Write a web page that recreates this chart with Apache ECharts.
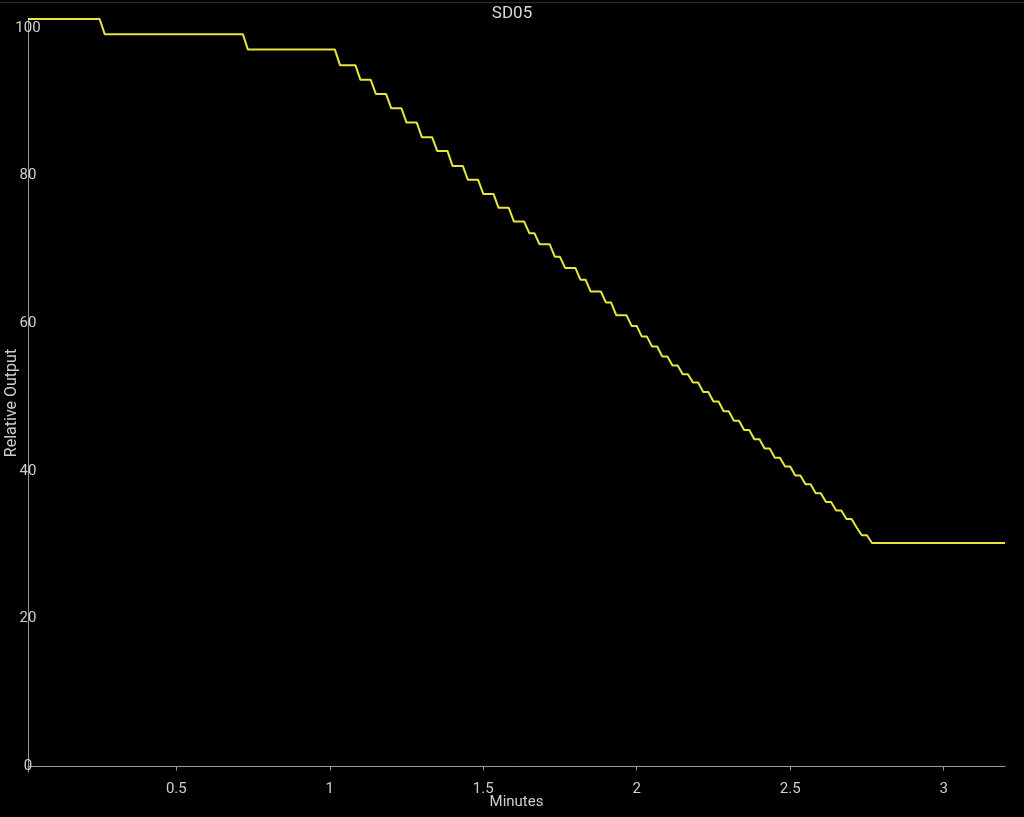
<!DOCTYPE html>
<html>
<head>
<meta charset="utf-8">
<script src="https://cdn.jsdelivr.net/npm/echarts@6/dist/echarts.min.js"></script>
<style>
html,body{margin:0;padding:0;background:#000;}
#chart{width:1024px;height:817px;}
</style>
</head>
<body>
<div id="chart"></div>
<script>
// Plateaus of the stepped output curve (time in seconds, value in %)
const plateauStartSec = [1, 16, 44, 62, 66, 69, 72, 75, 78, 81, 84, 87, 90, 93, 96, 99, 101, 104, 106, 109, 111, 114, 116, 119, 121, 123, 125, 127, 129, 131, 133, 135, 137, 139, 141, 143, 145, 147, 149, 151, 153, 155, 157, 159, 161, 163, 164, 166];
const plateauEndSec   = [15, 43, 61, 65, 68, 71, 74, 77, 80, 83, 86, 89, 92, 95, 98, 100, 103, 105, 108, 110, 113, 115, 118, 120, 122, 124, 126, 128, 130, 132, 134, 136, 138, 140, 142, 144, 146, 148, 150, 152, 154, 156, 158, 160, 162, 163, 165, 192];
const plateauValue    = [101.2, 99.15, 97.06, 94.95, 92.96, 91.06, 89.13, 87.18, 85.2, 83.34, 81.31, 79.42, 77.52, 75.63, 73.77, 72.2, 70.7, 69.0, 67.5, 65.9, 64.3, 62.8, 61.1, 59.65, 58.2, 56.85, 55.5, 54.3, 53.1, 52.0, 50.7, 49.4, 48.1, 46.8, 45.55, 44.3, 43.05, 41.8, 40.6, 39.4, 38.2, 37.0, 35.8, 34.65, 33.5, 32.35, 31.3, 30.25];

const xTickValues = [0.5, 1, 1.5, 2, 2.5, 3];
const yTickValues = [0, 20, 40, 60, 80, 100];

const titleText = 'SD05';
const xName = 'Minutes';
const yName = 'Relative Output';

const seriesData = [];
for (let i = 0; i < plateauValue.length; i++) {
  seriesData.push([plateauStartSec[i] / 60, plateauValue[i]]);
  if (plateauEndSec[i] !== plateauStartSec[i]) {
    seriesData.push([plateauEndSec[i] / 60, plateauValue[i]]);
  }
}

const chart = echarts.init(document.getElementById('chart'), null, {renderer: 'canvas'});
const axisColor = '#9a9a9a';
const labelColor = '#cfcfcf';
const font = 'Roboto';

chart.setOption({
  backgroundColor: '#000000',
  animation: false,
  textStyle: {fontFamily: font},
  graphic: [{
    type: 'line',
    shape: {x1: 0, y1: 2.5, x2: 1024, y2: 2.5},
    style: {stroke: '#2a2a2a', lineWidth: 1},
    silent: true
  }],
  title: {
    text: titleText,
    left: 'center',
    top: 0,
    textStyle: {color: '#d9d9d9', fontSize: 17, fontWeight: 'normal', fontFamily: font}
  },
  grid: {left: 28, right: 19, top: 19, bottom: 45, containLabel: false, outerBoundsMode: 'none'},
  xAxis: {
    type: 'value',
    min: 1 / 60,
    max: 3.2,
    name: xName,
    nameLocation: 'middle',
    nameGap: 23,
    nameMoveOverlap: false,
    nameTextStyle: {color: labelColor, fontSize: 15, fontFamily: font},
    axisLine: {show: true, lineStyle: {color: axisColor, width: 1}},
    axisTick: {show: true, length: 4, customValues: xTickValues, lineStyle: {color: axisColor}},
    axisLabel: {customValues: xTickValues, color: labelColor, fontSize: 15, margin: 10, fontFamily: font},
    splitLine: {show: false}
  },
  yAxis: {
    type: 'value',
    min: -0.75,
    max: 101.2,
    name: yName,
    nameLocation: 'middle',
    nameGap: 8,
    nameMoveOverlap: false,
    nameTextStyle: {color: labelColor, fontSize: 16, fontFamily: font, padding: [0, 15, 0, 0]},
    axisLine: {show: true, lineStyle: {color: axisColor, width: 1}},
    axisTick: {show: false},
    axisLabel: {customValues: yTickValues, color: labelColor, fontSize: 15, margin: 0, align: 'center', fontFamily: font},
    splitLine: {show: false}
  },
  series: [{
    type: 'line',
    data: seriesData,
    showSymbol: false,
    symbol: 'none',
    lineStyle: {color: '#e6e63c', width: 2},
    itemStyle: {color: '#e6e63c'}
  }]
});
</script>
</body>
</html>
